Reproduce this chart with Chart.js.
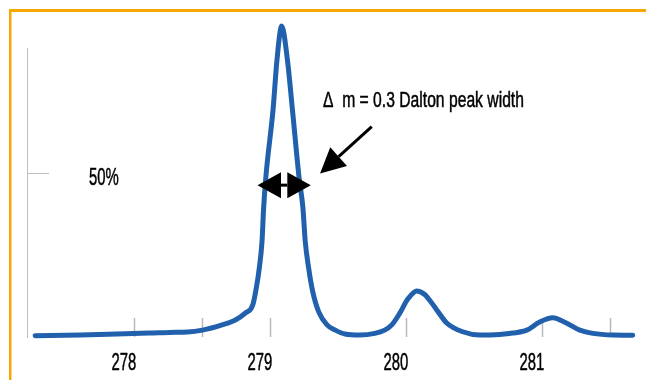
<!DOCTYPE html>
<html>
<head>
<meta charset="utf-8">
<script src="https://cdn.jsdelivr.net/npm/chart.js@4.4.1/dist/chart.umd.min.js"></script>
<style>
  html, body { margin: 0; padding: 0; background: #fff; }
  canvas { display: block; }
</style>
</head>
<body>
<canvas id="peak-chart" width="646" height="380"></canvas>
<script>
// mass (Dalton) and relative intensity (%)
const massValues = [
  277.27, 277.60, 277.99, 278.11, 278.26, 278.39, 278.50, 278.644, 278.742, 278.815,
  278.870, 278.896, 278.918, 278.938, 278.950, 278.967, 279.019, 279.048, 279.083, 279.125,
  279.162, 279.210, 279.239, 279.256, 279.281, 279.311, 279.355, 279.416, 279.477, 279.548,
  279.657, 279.767, 279.840, 279.892, 279.951, 280.010, 280.076, 280.134, 280.186, 280.223,
  280.296, 280.414, 280.539, 280.686, 280.781, 280.885, 280.980, 281.076, 281.179, 281.275,
  281.370, 281.517, 281.664
];
const intensityValues = [
  0.4, 0.6, 1.1, 1.2, 1.4, 1.5, 2.1, 3.7, 5.2, 7.3,
  9.8, 15.0, 21.1, 29.2, 39.5, 49.3, 69.5, 84.8, 95.2, 84.8,
  69.5, 49.0, 39.5, 29.2, 21.1, 13.9, 7.7, 3.7, 2.1, 0.9,
  0.6, 1.1, 2.1, 3.7, 7.3, 11.6, 14.1, 13.0, 10.4, 8.3,
  4.3, 1.6, 0.6, 0.8, 1.2, 2.1, 4.6, 5.9, 4.2, 2.1,
  1.1, 0.6, 0.55
];
const xTickValues = [278, 278.5, 279, 280, 281, 281.5];
const xLabelValues = [278, 279, 280, 281];
const xLabels = ['278', '279', '280', '281'];
const yTickValues = [50];
const yLabels = ['50%'];

// annotation anchors in data units
const peakWidthArrow = { from: 278.905, to: 279.297, level: 46.5 };
const pointerArrow = { fromX: 279.745, fromY: 64.4, toX: 279.365, toY: 50.1 };
const annotationText = { x: 279.386, y: 70.5, text: 'Δ  m = 0.3 Dalton peak width' };

const fontFamily = '"Liberation Sans", Arial, sans-serif';
const squeeze = 0.62; // condensed look of the original lettering

function condensedText(ctx, text, x, y, align, maxW) {
  ctx.textAlign = align;
  const w = maxW || ctx.measureText(text).width * squeeze;
  ctx.fillText(text, x, y, w);
  ctx.strokeText(text, x, y, w); // a touch heavier, like the original
}

const annotationPlugin = {
  id: 'annotations',
  afterDraw(chart) {
    const ctx = chart.ctx;
    const xs = chart.scales.x;
    const ys = chart.scales.y;
    ctx.save();

    // orange frame, top and left
    ctx.fillStyle = '#F5A900';
    ctx.fillRect(9, 9, chart.width - 9, 3);
    ctx.fillRect(9, 9, 2.5, chart.height - 9);

    ctx.fillStyle = '#000';
    ctx.strokeStyle = '#000';
    ctx.lineWidth = 0.5;

    // axis labels
    ctx.font = '24px ' + fontFamily;
    ctx.textBaseline = 'alphabetic';
    xLabelValues.forEach((v, i) => {
      condensedText(ctx, xLabels[i], xs.getPixelForValue(v) - 10.5, chart.chartArea.bottom + 33, 'center');
    });
    yTickValues.forEach((v, i) => {
      condensedText(ctx, yLabels[i], chart.chartArea.left + 62, ys.getPixelForValue(v) + 11.5, 'left');
    });

    // annotation
    ctx.font = '22px ' + fontFamily;
    condensedText(ctx, annotationText.text, xs.getPixelForValue(annotationText.x),
      ys.getPixelForValue(annotationText.y), 'left', 201);

    // double arrow across the peak
    const x1 = xs.getPixelForValue(peakWidthArrow.from);
    const x2 = xs.getPixelForValue(peakWidthArrow.to);
    const ya = ys.getPixelForValue(peakWidthArrow.level);
    const head = 23.5, half = 13;
    ctx.beginPath();
    ctx.moveTo(x1, ya);
    ctx.lineTo(x1 + head, ya - half);
    ctx.lineTo(x1 + head, ya + half);
    ctx.closePath();
    ctx.fill();
    ctx.beginPath();
    ctx.moveTo(x2, ya);
    ctx.lineTo(x2 - head, ya - half);
    ctx.lineTo(x2 - head, ya + half);
    ctx.closePath();
    ctx.fill();
    ctx.fillRect(x1 + head, ya - 1.5, (x2 - x1) - 2 * head, 3);

    // pointer arrow
    const px1 = xs.getPixelForValue(pointerArrow.fromX);
    const py1 = ys.getPixelForValue(pointerArrow.fromY);
    const px2 = xs.getPixelForValue(pointerArrow.toX);
    const py2 = ys.getPixelForValue(pointerArrow.toY);
    const ang = Math.atan2(py2 - py1, px2 - px1);
    const hl = 25, hw = 12.5;
    const bx = px2 - hl * Math.cos(ang);
    const by = py2 - hl * Math.sin(ang);
    ctx.lineWidth = 3;
    ctx.beginPath();
    ctx.moveTo(px1, py1);
    ctx.lineTo(bx, by);
    ctx.stroke();
    ctx.beginPath();
    ctx.moveTo(px2, py2);
    ctx.lineTo(bx + hw * Math.sin(ang), by - hw * Math.cos(ang));
    ctx.lineTo(bx - hw * Math.sin(ang), by + hw * Math.cos(ang));
    ctx.closePath();
    ctx.fill();

    ctx.restore();
  }
};

new Chart(document.getElementById('peak-chart'), {
  type: 'line',
  data: {
    datasets: [{
      data: massValues.map((m, i) => ({ x: m, y: intensityValues[i] })),
      borderColor: '#2160AC',
      borderWidth: 5,
      borderCapStyle: 'round',
      borderJoinStyle: 'round',
      pointRadius: 0,
      cubicInterpolationMode: 'monotone',
      fill: false,
      clip: false
    }]
  },
  options: {
    responsive: false,
    animation: false,
    layout: { padding: { left: 27, top: 48, right: 7, bottom: 0 } },
    plugins: { legend: { display: false }, tooltip: { enabled: false } },
    scales: {
      x: {
        type: 'linear',
        min: 277.21,
        max: 281.71,
        afterBuildTicks: (scale) => { scale.ticks = xTickValues.map(v => ({ value: v })); },
        afterFit: (scale) => {
          scale.height = 43;
          scale.paddingLeft = scale.paddingRight = scale.paddingTop = scale.paddingBottom = 0;
        },
        border: { display: false },
        grid: {
          drawOnChartArea: false,
          tickLength: -19,
          tickWidth: 1.5,
          tickColor: '#B8B8B8'
        },
        ticks: { display: false }
      },
      y: {
        min: 0,
        max: 88.5,
        afterBuildTicks: (scale) => { scale.ticks = yTickValues.map(v => ({ value: v })); },
        afterFit: (scale) => {
          scale.width = 0;
          scale.paddingLeft = scale.paddingRight = scale.paddingTop = scale.paddingBottom = 0;
        },
        border: { display: true, color: '#BDBDBD', width: 1 },
        grid: {
          drawOnChartArea: false,
          tickLength: -22,
          tickWidth: 1,
          tickColor: '#BDBDBD'
        },
        ticks: { display: false }
      }
    }
  },
  plugins: [annotationPlugin]
});
</script>
</body>
</html>
